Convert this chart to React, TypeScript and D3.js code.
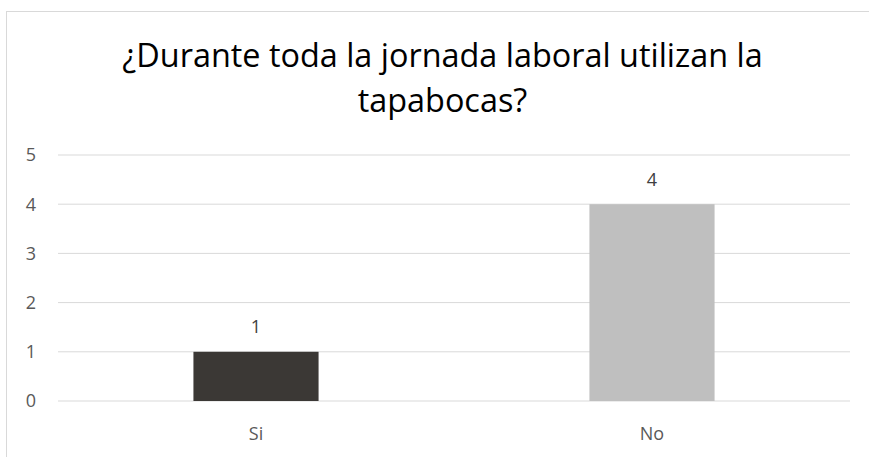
import React from "react";
import * as d3 from "d3";

const categories = ["Si", "No"];
const values = [1, 4];
const barColors = ["#3B3835", "#BFBFBF"];
const yTicks = [0, 1, 2, 3, 4, 5];
const titleLines = ["¿Durante toda la jornada laboral utilizan la", "tapabocas?"];

export default function App() {
  const W = 869, H = 457;
  const left = 58, right = 850, top = 155, bottom = 401;
  const x = d3.scaleBand<string>().domain(categories).range([left, right]).paddingInner(0.684).paddingOuter(0.342);
  const y = d3.scaleLinear().domain([0, 5]).range([bottom, top]);
  const font = "'Open Sans', sans-serif";
  return (
    <svg width={W} height={H} style={{ position: "absolute", left: 0, top: 0 }}>
      <rect x={0} y={0} width={W} height={H} fill="#fff" />
      <line x1={6.5} y1={11} x2={6.5} y2={H} stroke="#D9D9D9" />
      <line x1={6} y1={11.5} x2={W} y2={11.5} stroke="#D9D9D9" />
      {titleLines.map((t, i) => (
        <text key={i} x={442.5} y={67 + i * 45} textAnchor="middle" fontFamily={font} fontSize={32.4} fill="#000">{t}</text>
      ))}
      {yTicks.map(t => (
        <g key={t}>
          <line x1={left} x2={right} y1={y(t)} y2={y(t)} stroke="#D9D9D9" strokeWidth={1} />
          <text x={36} y={y(t)} dy="0.36em" textAnchor="end" fontFamily={font} fontSize={18} fill="#595959">{t}</text>
        </g>
      ))}
      {categories.map((c, i) => (
        <g key={c}>
          <rect x={x(c)} y={y(values[i])} width={x.bandwidth()} height={y(0) - y(values[i])} fill={barColors[i]} />
          <text x={x(c)! + x.bandwidth() / 2} y={y(values[i]) - 25} dy="0.36em" textAnchor="middle" fontFamily={font} fontSize={18} fill="#404040">{values[i]}</text>
          <text x={x(c)! + x.bandwidth() / 2} y={434} dy="0.36em" textAnchor="middle" fontFamily={font} fontSize={18} fill="#595959">{c}</text>
        </g>
      ))}
    </svg>
  );
}
